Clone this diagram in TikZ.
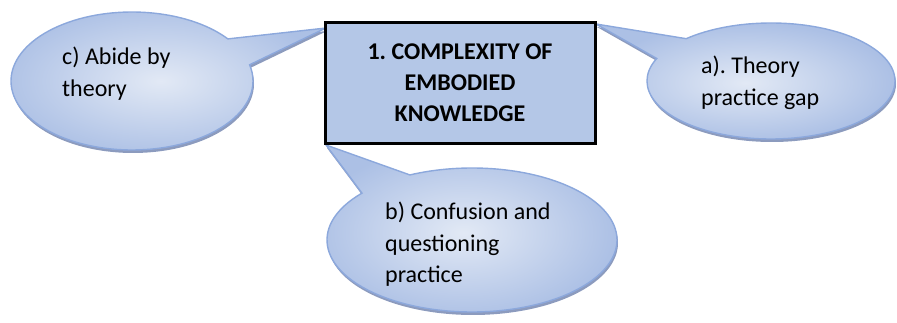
\documentclass[tikz,border=0pt]{standalone}
\usepackage{fontspec}
\setmainfont{Carlito}
\frenchspacing
\usetikzlibrary{shapes.callouts,shadows}
\definecolor{boxfill}{RGB}{180,199,231}
\definecolor{calloutline}{RGB}{140,168,220}
\definecolor{calloutin}{RGB}{226,233,245}
\definecolor{calloutout}{RGB}{172,192,229}
\definecolor{shadowc}{RGB}{140,155,190}
\tikzset{
  bubble/.style={ellipse callout, draw=calloutline, line width=1.4pt,
    inner color=calloutin, outer color=calloutout,
    callout pointer arc=24,
    drop shadow={shadow xshift=1pt, shadow yshift=-3pt, fill=shadowc, opacity=1},
    inner sep=0pt},
  bubbletext/.style={anchor=base west, align=flush left, font=\fontsize{24}{31.5}\selectfont, text width=190pt, inner sep=0pt},
  mainbox/.style={draw=black, line width=3pt, fill=boxfill, inner sep=0pt}
}
\begin{document}
\begin{tikzpicture}[x=1pt,y=1pt]
\useasboundingbox (0,0) rectangle (897,-323);
% callouts
\node[bubble, minimum width=242pt, minimum height=138pt,
      callout absolute pointer={(326,-28)}] (cbub) at (132,-81) {};
\node[bubble, minimum width=248pt, minimum height=116pt,
      callout absolute pointer={(596,-24)}] (abub) at (771,-81) {};
\node[bubble, minimum width=290pt, minimum height=144pt,
      callout absolute pointer={(326,-145)}] (bbub) at (472,-240) {};
% main box
\node[mainbox, minimum width=270pt, minimum height=121pt] (box) at (460,-83.5) {};
\node[anchor=base, align=flush center, text width=260pt, font=\bfseries\fontsize{24}{31}\selectfont, inner sep=0pt] (boxtext) at (460,-60)
  {1. COMPLEXITY OF\\EMBODIED\\KNOWLEDGE};
% texts
\node[bubbletext] (ctext) at (62,-65) {c) Abide by\\theory};
\node[bubbletext] (atext) at (701,-74) {a). Theory\\practice gap};
\node[bubbletext] (btext) at (385,-220) {b) Confusion and\\questioning\\practice};
\end{tikzpicture}
\end{document}
